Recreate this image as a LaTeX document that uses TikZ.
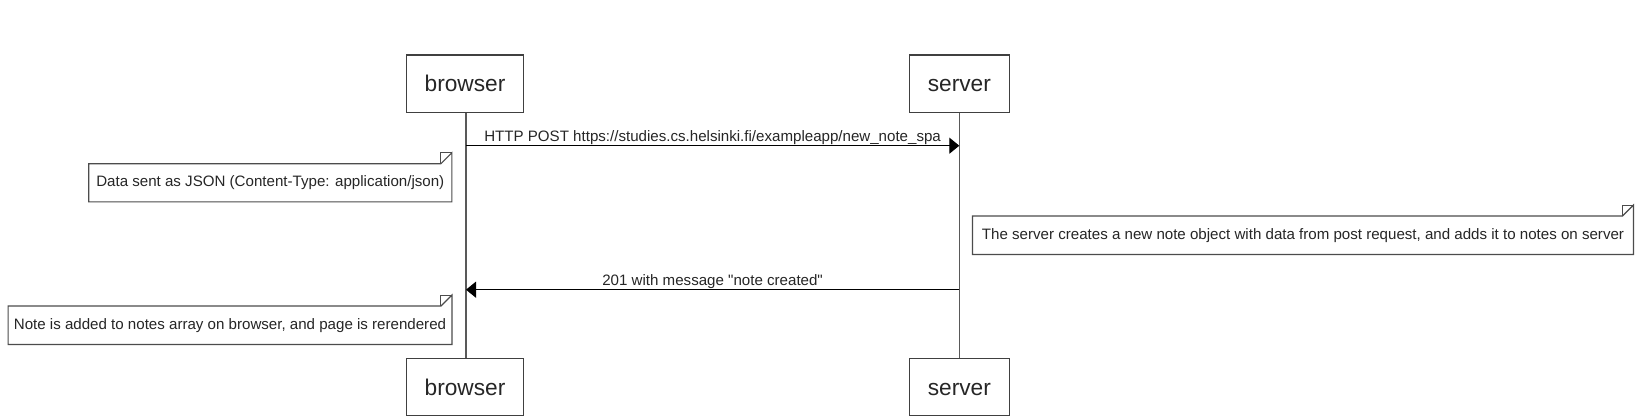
\documentclass[tikz,border=0pt]{standalone}
\usepackage{fontspec}
\setmainfont{Liberation Sans}[Ligatures=TeXOff]
\usetikzlibrary{arrows.meta}
\begin{document}
\begin{tikzpicture}[x=1pt,y=-1pt,
  actor/.style={draw=black!75, line width=1.2pt, fill=white, minimum width=#1, minimum height=57.3pt, inner sep=0pt, text height=16.5pt, text depth=0pt, font=\fontsize{22.7}{26}\selectfont, text=black!85},
  notebox/.style={minimum width=#1, minimum height=38pt, inner sep=0pt, font=\fontsize{15.1}{18}\selectfont, text=black!85},
  noteline/.style={draw=black!70, line width=1.2pt, fill=white},
  lifeline/.style={draw=black!65, line width=1.1pt},
  msg/.style={draw=black, line width=1.3pt, -{Triangle[length=10pt,width=16pt]}},
  msglabel/.style={anchor=base, font=\fontsize{15.1}{18}\selectfont, text=black!85}]
\useasboundingbox (0,0) rectangle (1640,418);
\fill[white] (0,0) rectangle (1640,418);
% lifelines
\coordinate (bt) at (466,112.3);
\coordinate (bb) at (466,358.3);
\coordinate (st) at (959.3,112.3);
\coordinate (sb) at (959.3,358.3);
\draw[lifeline] (bt) -- (bb);
\draw[lifeline] (st) -- (sb);
% actors
\node[actor=116.6pt] (browserTop) at (465,83.7) {browser};
\node[actor=100pt] (serverTop) at (959.3,83.7) {server};
\node[actor=116.6pt] (browserBot) at (465,387) {browser};
\node[actor=100pt] (serverBot) at (959.3,387) {server};
% message 1
\coordinate (m1a) at (466,145.7);
\coordinate (m1b) at (959.3,145.7);
\draw[msg] (m1a) -- (m1b);
\node[msglabel] (m1l) at (712.6,141.7) {HTTP POST https://studies.cs.helsinki.fi/exampleapp/new\_note\_spa};
% message 2
\coordinate (m2a) at (959.3,289.7);
\coordinate (m2b) at (466,289.7);
\draw[msg] (m2a) -- (m2b);
\node[msglabel] (m2l) at (712.6,285.7) {201 with message "note created"};
% notes
\newcommand{\notedraw}[1]{%
  \draw[noteline] (#1.south west) -- (#1.north west) -- ([xshift=-11pt]#1.north east) -- ([yshift=11pt]#1.north east) -- (#1.south east) -- cycle;
  \draw[draw=black!70, line width=1pt] ([xshift=-11pt]#1.north east) -- ([xshift=-11pt,yshift=11pt]#1.north east) -- ([yshift=11pt]#1.north east);}
\node[notebox=362.7pt, minimum height=37.7pt] (n1) at (270.3,182.8) {};
\notedraw{n1}
\node[notebox=362.7pt, minimum height=37.7pt] (n1t) at (270.3,182.8) {Data sent as JSON (Content-Type: application/json)};
\node[notebox=660.6pt] (n2) at (1303,235.2) {};
\notedraw{n2}
\node[notebox=660.6pt] (n2t) at (1303,235.2) {The server creates a new note object with data from post request, and adds it to notes on server};
\node[notebox=443.4pt] (n3) at (230,325.2) {};
\notedraw{n3}
\node[notebox=443.4pt] (n3t) at (230,325.2) {Note is added to notes array on browser, and page is rerendered};
\end{tikzpicture}
\end{document}
